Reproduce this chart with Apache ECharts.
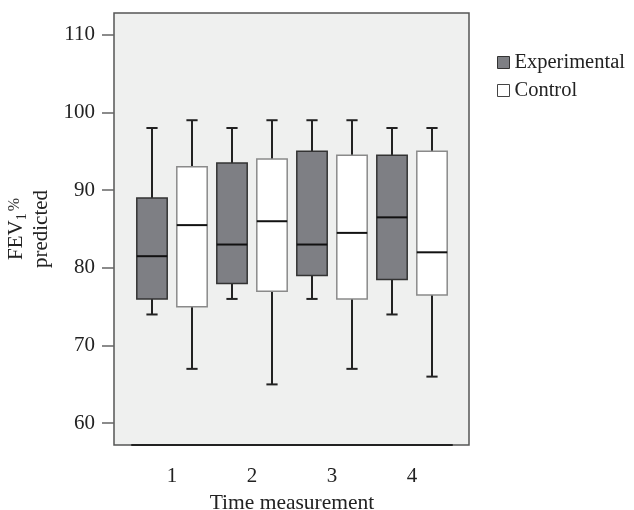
<!DOCTYPE html>
<html><head><meta charset="utf-8">
<script src="https://cdn.jsdelivr.net/npm/echarts@6/dist/echarts.min.js"></script>
<style>html,body{margin:0;padding:0;background:#fff}#c{width:634px;height:510px}</style>
</head><body><div id="c"></div>
<script>
const categories = ['1', '2', '3', '4'];
const yTicks = [60, 70, 80, 90, 100, 110];
const seriesNames = ['Experimental', 'Control'];
// each row: [lower whisker, Q1, median, Q3, upper whisker]
const experimental = [
  [74, 76, 81.5, 89, 98],
  [76, 78, 83, 93.5, 98],
  [76, 79, 83, 95, 99],
  [74, 78.5, 86.5, 94.5, 98]
];
const control = [
  [67, 75, 85.5, 93, 99],
  [65, 77, 86, 94, 99],
  [67, 76, 84.5, 94.5, 99],
  [66, 76.5, 82, 95, 98]
];

const FONT = 'Liberation Serif';
const FS = 21;
const Y_MIN = 57.2, Y_MAX = 112.8;

const styles = [
  { fill: '#7e7f84', border: '#333333', side: -1 },
  { fill: '#ffffff', border: '#8a8a8a', side: 1 }
];

function makeRender(st) {
  return function (params, api) {
    const cat = api.value(0);
    const lo = api.value(1), q1 = api.value(2), med = api.value(3), q3 = api.value(4), hi = api.value(5);
    const band = api.size([1, 0])[0];
    const cx = api.coord([cat, med])[0] + st.side * band * 0.25;
    const yLo = api.coord([cat, lo])[1];
    const yQ1 = api.coord([cat, q1])[1];
    const yMed = api.coord([cat, med])[1];
    const yQ3 = api.coord([cat, q3])[1];
    const yHi = api.coord([cat, hi])[1];
    const bw = band * 0.38;
    const cw = band * 0.14;
    const wStyle = { stroke: '#222222', lineWidth: 2 };
    return {
      type: 'group',
      children: [
        { type: 'line', shape: { x1: cx, y1: yQ3, x2: cx, y2: yHi }, style: wStyle },
        { type: 'line', shape: { x1: cx, y1: yQ1, x2: cx, y2: yLo }, style: wStyle },
        { type: 'line', shape: { x1: cx - cw / 2, y1: yHi, x2: cx + cw / 2, y2: yHi }, style: wStyle },
        { type: 'line', shape: { x1: cx - cw / 2, y1: yLo, x2: cx + cw / 2, y2: yLo }, style: wStyle },
        { type: 'rect', shape: { x: cx - bw / 2, y: yQ3, width: bw, height: yQ1 - yQ3 },
          style: { fill: st.fill, stroke: st.border, lineWidth: 1.5 } },
        { type: 'line', shape: { x1: cx - bw / 2, y1: yMed, x2: cx + bw / 2, y2: yMed },
          style: { stroke: '#111111', lineWidth: 2 } }
      ]
    };
  };
}

function toData(rows) {
  return rows.map((r, i) => [i].concat(r));
}

const chart = echarts.init(document.getElementById('c'), null, { renderer: 'canvas' });
chart.setOption({
  animation: false,
  backgroundColor: '#ffffff',
  textStyle: { fontFamily: FONT },
  legend: {
    orient: 'vertical',
    left: 492, top: 47,
    itemWidth: 12, itemHeight: 12, itemGap: 7,
    icon: 'rect',
    textStyle: { fontFamily: FONT, fontSize: 20.5, color: '#222' },
    data: [
      { name: seriesNames[0], itemStyle: { color: styles[0].fill, borderColor: '#333', borderWidth: 1 } },
      { name: seriesNames[1], itemStyle: { color: '#ffffff', borderColor: '#444', borderWidth: 1 } }
    ]
  },
  grid: [
    { left: 114, right: 165, top: 13, bottom: 65, show: true, backgroundColor: '#eff0ef',
      borderColor: '#555555', borderWidth: 1.5, containLabel: false, outerBoundsMode: 'none' },
    { left: 132, right: 182, top: 13, bottom: 65, containLabel: false, outerBoundsMode: 'none' }
  ],
  xAxis: [
    { gridIndex: 0, type: 'value', show: false, min: 0, max: 1 },
    { gridIndex: 1, type: 'category', data: categories,
      name: 'Time measurement', nameLocation: 'middle', nameGap: 46,
      nameTextStyle: { fontFamily: FONT, fontSize: 21.5, color: '#222' },
      axisLine: { lineStyle: { color: '#222', width: 2 } },
      axisTick: { alignWithLabel: true, length: 13, lineStyle: { color: '#888', width: 1.5 } },
      axisLabel: { margin: 21, fontFamily: FONT, fontSize: FS, color: '#222' },
      splitLine: { show: false } }
  ],
  yAxis: [
    { gridIndex: 0, type: 'value', min: Y_MIN, max: Y_MAX,
      name: '{m|FEV}{s|1}{p|%}\n{m|predicted}', nameLocation: 'middle', nameGap: 60,
      nameTextStyle: { fontFamily: FONT, color: '#222',
        rich: {
          m: { fontFamily: FONT, fontSize: FS, lineHeight: 25, color: '#222', verticalAlign: 'middle' },
          s: { fontFamily: FONT, fontSize: 14, lineHeight: 14, color: '#222', verticalAlign: 'bottom' },
          p: { fontFamily: FONT, fontSize: 16, lineHeight: 25, color: '#333', verticalAlign: 'middle', padding: [0, 0, 4, 2] }
        } },
      axisLine: { show: false },
      axisTick: { show: true, length: 12, customValues: yTicks, lineStyle: { color: '#666', width: 1.5 } },
      axisLabel: { margin: 19, customValues: yTicks, fontFamily: FONT, fontSize: FS, color: '#222' },
      splitLine: { show: false } },
    { gridIndex: 1, type: 'value', min: Y_MIN, max: Y_MAX, show: false, splitLine: { show: false } }
  ],
  series: [
    { name: seriesNames[0], type: 'custom', xAxisIndex: 1, yAxisIndex: 1,
      itemStyle: { color: styles[0].fill, borderColor: '#333' },
      encode: { x: 0, y: [1, 2, 3, 4, 5] },
      renderItem: makeRender(styles[0]), data: toData(experimental) },
    { name: seriesNames[1], type: 'custom', xAxisIndex: 1, yAxisIndex: 1,
      itemStyle: { color: '#ffffff', borderColor: '#444' },
      encode: { x: 0, y: [1, 2, 3, 4, 5] },
      renderItem: makeRender(styles[1]), data: toData(control) }
  ]
});
</script>
</body></html>
